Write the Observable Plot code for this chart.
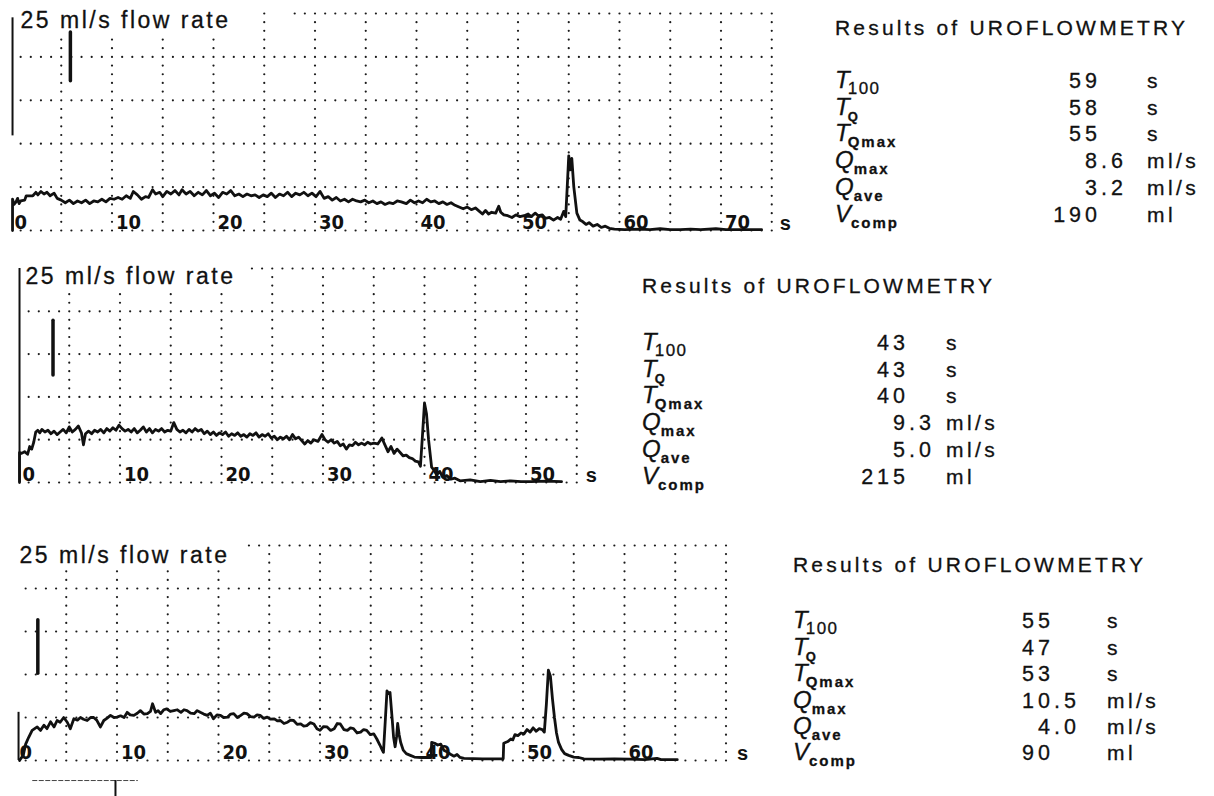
<!DOCTYPE html>
<html>
<head>
<meta charset="utf-8">
<script src="https://cdn.jsdelivr.net/npm/d3@7"></script>
<script src="https://cdn.jsdelivr.net/npm/@observablehq/plot@0.6"></script>
<style>
  body { margin: 0; background: #fff; }
  #fig { position: relative; width: 1214px; height: 796px; overflow: hidden; background: #fff; }
  .panel { position: absolute; left: 0; }
  #results { position: absolute; left: 0; top: 0; pointer-events: none; }
</style>
</head>
<body>
<div id="fig"></div>
<script>
// ---------- chart paper ----------
const flowGrid = [0, 5, 10, 15, 20, 25];              // ml/s rows, full height = 25 ml/s
const rangeTitle = "25 ml/s flow rate";
const timeLabels1 = [0, 10, 20, 30, 40, 50, 60, 70];
const timeLabels2 = [0, 10, 20, 30, 40, 50];
const timeLabels3 = [0, 10, 20, 30, 40, 50, 60];

// ---------- flow traces: [time s, flow ml/s] ----------
const flow1 = [
  [0.2,0],[0.2,3.6],[0.35,3.0],[0.55,3.3],[0.7,3.7],[0.85,3.1],[1.0,3.4],[1.4,3.5],[1.55,4.0],[2.2,4.0],
  [2.5,4.4],[2.7,4.1],[3.0,4.5],[3.3,4.2],[3.6,4.4],[3.9,4.0],[4.3,4.3],[4.6,3.7],[5.0,3.5],[5.4,3.2],
  [5.8,3.5],[6.2,3.1],[6.6,3.4],[7.0,3.2],[7.4,3.5],[7.8,3.1],[8.2,3.4],[8.6,3.3],[9.0,3.6],[9.4,3.3],
  [9.8,3.7],[10.2,3.6],[10.6,3.8],[11.0,3.6],[11.4,4.0],[11.8,3.7],[12.1,4.5],[12.5,4.1],[12.9,3.6],[13.3,3.9],
  [13.6,3.8],[14.0,4.7],[14.3,4.2],[14.7,4.4],[15.0,3.9],[15.4,4.5],[15.8,4.2],[16.2,4.6],[16.6,4.1],[16.9,4.7],
  [17.3,4.2],[17.7,4.5],[18.1,4.0],[18.5,4.4],[18.9,4.1],[19.3,4.6],[19.7,4.0],[20.1,4.3],[20.5,3.8],[20.9,4.4],
  [21.3,4.2],[21.7,4.6],[22.1,4.0],[22.5,4.2],[22.9,3.9],[23.3,4.2],[23.7,4.0],[24.1,4.1],[24.5,3.8],[24.9,4.1],
  [25.3,3.9],[25.7,4.3],[26.1,3.8],[26.5,4.2],[26.9,4.0],[27.3,4.4],[27.7,3.9],[28.1,4.3],[28.5,4.1],[28.9,4.4],
  [29.3,4.0],[29.7,4.3],[30.1,3.9],[30.5,4.5],[30.9,3.7],[31.3,3.9],[31.7,3.5],[32.1,3.8],[32.5,3.4],[32.9,3.6],
  [33.3,3.3],[33.7,3.6],[34.1,3.4],[34.5,3.3],[34.9,3.5],[35.3,3.2],[35.7,3.4],[36.1,3.1],[36.5,3.3],[36.9,3.0],
  [37.3,3.2],[37.7,3.1],[38.1,3.4],[38.5,3.3],[39.0,3.1],[39.4,3.5],[39.8,3.2],[40.2,3.4],[40.6,3.2],[41.0,3.6],
  [41.4,3.3],[41.8,3.4],[42.2,3.1],[42.6,3.3],[43.0,3.0],[43.4,3.2],[43.8,2.9],[44.2,2.7],[44.6,2.5],[45.0,2.7],
  [45.4,2.4],[45.8,2.6],[46.2,2.2],[46.5,1.9],[46.8,2.3],[47.1,1.9],[47.4,2.1],[47.8,2.0],[48.1,2.8],[48.3,2.1],
  [48.6,1.8],[49.0,1.7],[49.4,1.5],[49.8,1.8],[50.2,1.6],[50.6,1.7],[51.0,1.9],[51.3,1.6],[51.7,2.0],[52.0,1.7],
  [52.4,1.8],[52.7,1.4],[53.1,1.5],[53.5,1.2],[53.9,1.5],[54.2,1.3],[54.5,2.2],[54.7,1.6],[54.85,5.0],[55.0,8.6],
  [55.15,7.0],[55.3,8.3],[55.5,5.0],[55.8,2.0],[56.1,1.2],[56.4,1.0],[56.7,0.7],[57.0,0.9],[57.4,0.5],[57.8,0.7],
  [58.2,0.35],[58.6,0.5],[59.0,0.25],[59.5,0.15],[60.5,0.1],[62,0.15],[63,0.1],[64,0.2],[65,0.1],[66,0.1],
  [67,0.15],[68,0.1],[69.5,0.2],[70.5,0.1],[72,0.1],[74,0.1]
];
const flow2 = [
  [0.1,0],[0.1,3.5],[0.3,3.4],[0.6,3.6],[0.9,3.3],[1.1,4.2],[1.3,3.9],[1.5,4.7],[1.7,5.9],[1.9,6.1],
  [2.1,5.8],[2.3,6.2],[2.6,5.9],[2.9,6.1],[3.2,5.7],[3.5,6.0],[3.8,5.6],[4.1,5.9],[4.4,6.2],[4.7,5.8],
  [5.0,6.5],[5.3,5.9],[5.6,6.2],[5.9,6.6],[6.2,5.8],[6.4,4.4],[6.6,5.7],[6.9,6.0],[7.2,5.7],[7.5,6.1],
  [7.8,5.9],[8.1,6.2],[8.4,5.8],[8.7,6.3],[9.0,6.0],[9.3,6.4],[9.6,6.1],[9.9,6.7],[10.2,6.3],[10.5,6.0],
  [10.8,6.2],[11.1,5.9],[11.4,6.3],[11.7,5.8],[12.0,6.1],[12.3,6.5],[12.6,5.9],[12.9,6.3],[13.2,5.8],[13.5,6.2],
  [13.8,6.0],[14.1,6.3],[14.4,5.9],[14.7,6.1],[15.0,6.0],[15.3,7.0],[15.6,6.2],[15.9,5.9],[16.2,6.1],[16.5,5.8],
  [16.8,6.2],[17.1,5.9],[17.4,6.3],[17.7,6.0],[18.0,6.2],[18.3,5.7],[18.6,6.0],[18.9,5.6],[19.2,5.9],[19.5,5.5],
  [19.8,5.8],[20.1,5.6],[20.4,5.9],[20.7,5.4],[21.0,5.7],[21.3,5.5],[21.6,5.8],[21.9,5.4],[22.2,5.6],[22.5,5.3],
  [22.8,5.7],[23.1,5.5],[23.4,5.8],[23.7,5.3],[24.0,5.6],[24.3,5.4],[24.6,5.7],[24.9,5.2],[25.2,5.4],[25.5,5.0],
  [25.8,5.3],[26.1,5.1],[26.4,5.4],[26.7,5.0],[27.0,5.6],[27.3,5.1],[27.6,5.3],[27.9,4.9],[28.2,4.5],[28.5,4.9],
  [28.8,4.6],[29.1,5.0],[29.5,4.8],[29.9,5.6],[30.2,5.0],[30.5,4.7],[30.8,5.0],[31.1,4.6],[31.4,4.8],[31.7,4.3],
  [32.0,4.5],[32.3,3.9],[32.6,4.4],[32.9,4.3],[33.2,4.7],[33.5,4.4],[33.8,4.6],[34.1,4.4],[34.4,4.7],[34.7,4.5],
  [35.0,4.6],[35.4,4.5],[35.8,5.2],[36.1,4.4],[36.4,3.6],[36.7,4.2],[37.0,3.4],[37.3,3.9],[37.6,3.5],[37.9,3.1],
  [38.2,3.2],[38.5,2.9],[38.8,2.8],[39.1,2.5],[39.4,2.4],[39.6,1.9],[39.8,5.5],[40.0,9.3],[40.2,8.0],[40.4,5.0],
  [40.7,1.8],[40.9,1.5],[41.2,0.9],[41.5,1.3],[41.8,0.6],[42.2,0.8],[42.6,0.4],[43.0,0.5],[43.5,0.2],[44.5,0.3],
  [45.5,0.1],[46.5,0.25],[47.5,0.1],[48.5,0.2],[49.5,0.1],[50.5,0.1],[52,0.15],[53.5,0.1]
];
const flow3 = [
  [0.4,0],[0.5,0.2],[0.76,0.6],[1.0,1.9],[1.3,2.7],[1.64,3.5],[2.14,3.9],[2.46,3.5],[2.8,4.1],[3.1,3.7],
  [3.45,4.5],[3.8,3.9],[4.1,4.65],[4.4,4.45],[4.75,5.0],[5.1,4.45],[5.4,3.7],[5.75,4.85],[6.1,4.7],[6.4,5.0],
  [6.7,4.8],[7.06,4.65],[7.4,5.0],[7.7,5.0],[8.0,4.7],[8.37,3.9],[8.7,4.65],[9.0,4.9],[9.36,5.25],[9.7,5.0],
  [10.0,5.05],[10.35,5.2],[10.7,5.0],[11.0,5.6],[11.3,5.3],[11.66,5.25],[12.0,5.5],[12.3,5.8],[12.65,5.4],[13.0,5.45],
  [13.3,5.7],[13.5,6.6],[13.8,5.6],[14.05,5.8],[14.3,5.45],[14.6,5.9],[14.9,6.0],[15.25,5.7],[15.6,5.8],[15.95,5.9],
  [16.3,5.6],[16.6,5.9],[16.9,5.8],[17.25,5.5],[17.6,5.45],[17.9,5.8],[18.2,5.6],[18.55,5.4],[18.9,5.25],[19.2,5.5],
  [19.5,4.85],[19.85,5.3],[20.2,5.25],[20.5,5.0],[20.9,5.05],[21.2,5.4],[21.5,5.45],[21.85,5.0],[22.2,5.25],[22.5,5.5],
  [22.8,5.45],[23.15,5.1],[23.5,5.05],[23.8,5.3],[24.1,5.25],[24.45,4.9],[24.8,5.05],[25.1,4.8],[25.5,4.85],[25.8,4.6],
  [26.1,4.65],[26.45,4.3],[26.8,4.45],[27.1,4.7],[27.4,4.65],[27.75,4.2],[28.1,4.25],[28.4,4.0],[28.7,4.05],[29.05,4.4],
  [29.4,4.25],[29.7,3.7],[30.0,3.5],[30.35,3.95],[30.7,3.9],[31.05,3.5],[31.4,3.7],[31.7,4.3],[32.0,4.25],[32.35,3.6],
  [32.7,3.5],[33.0,3.8],[33.3,3.7],[33.65,3.2],[34.0,3.3],[34.3,3.6],[34.6,3.5],[34.95,3.0],[35.3,3.1],[35.6,2.5],
  [35.9,1.8],[36.1,1.3],[36.25,0.95],[36.45,5.0],[36.6,8.1],[36.75,7.8],[36.9,7.9],[37.1,5.0],[37.25,2.7],[37.4,1.6],
  [37.55,2.8],[37.65,4.3],[37.8,3.0],[37.95,2.1],[38.2,1.2],[38.5,0.8],[38.9,0.6],[39.3,0.4],[40.0,0.35],[40.95,0.35],
  [41.0,2.1],[41.3,2.0],[41.6,1.8],[41.9,1.9],[42.2,1.2],[42.5,1.0],[42.9,0.7],[43.2,0.5],[43.5,0.7],[43.8,0.35],
  [44.2,0.25],[46,0.2],[48.05,0.2],[48.1,2.0],[48.5,2.2],[48.8,2.5],[49.0,2.4],[49.2,3.0],[49.5,2.9],[49.8,3.2],
  [50.1,3.1],[50.4,3.6],[50.7,3.3],[51.0,3.8],[51.3,3.4],[51.6,3.7],[51.9,3.6],[52.1,3.3],[52.3,6.5],[52.5,10.5],
  [52.7,9.8],[52.9,7.2],[53.1,5.0],[53.3,3.2],[53.5,2.1],[53.8,1.3],[54.1,0.8],[54.5,0.6],[55.0,0.4],[55.5,0.35],
  [56.0,0.2],[57.5,0.15],[59,0.2],[60.5,0.15],[62,0.1],[63.2,0.25],[63.6,0.1],[65.2,0.1]
];

// recorder pen marks: left edge strokes and calibration bars (time s, flow range ml/s)
const edge1 = [{t: 0.2, q1: 10.9, q2: 24.5}];
const edge2 = [{t: 0.1, q1: 0, q2: 25}];
const edge3 = [{t: 0.3, q1: 0, q2: 5.6}];
const calib1 = [{t: 5.9, q1: 17.2, q2: 22.8}];
const calib2 = [{t: 3.4, q1: 12.5, q2: 18.9}];
const calib3 = [{t: 2.2, q1: 10.1, q2: 16.3}];
// start of the next strip below the third record
const stripEdgeLine = [{q: -2.33, t1: 1.7, t2: 12.1}];
const stripEdgeTick = [{t: 9.85, q1: -2.33, q2: -4.4}];

// ---------- results tables ----------
const resultSymbols = ["T", "T", "T", "Q", "Q", "V"];
const resultSubscripts = ["100", "Q", "Qmax", "max", "ave", "comp"];
const resultUnits = ["s", "s", "s", "ml/s", "ml/s", "ml"];
const results1 = ["59", "58", "55", "8.6", "3.2", "190"];
const results2 = ["43", "43", "40", "9.3", "5.0", "215"];
const results3 = ["55", "47", "53", "10.5", "4.0", "90"];
const resultsTitle = "Results of UROFLOWMETRY";

// ---------- layout ----------
const PX_PER_S = 10.15;   // paper speed
const SANS = "'Liberation Sans', Arial, Helvetica, sans-serif";
const NARROW = "'Liberation Sans Narrow', 'DejaVu Sans Condensed', 'Liberation Sans', sans-serif";
const INK = "#111";

const panels = [
  {top: 0,   width: 800, height: 250, x0: 10, yTop: 13, yBottom: 230, xmax: 75, rowStart: 28,
   titleDx: 10, titleDy: 14, unitDx: 8, flow: flow1, labels: timeLabels1, edge: edge1, calib: calib1},
  {top: 250, width: 610, height: 250, x0: 18, yTop: 18, yBottom: 232, xmax: 55, rowStart: 23,
   titleDx: 7, titleDy: 15, unitDx: 9, flow: flow2, labels: timeLabels2, edge: edge2, calib: calib2},
  {top: 520, width: 760, height: 276, x0: 15, yTop: 25, yBottom: 240, xmax: 70, rowStart: 23,
   titleDx: 4, titleDy: 17, unitDx: 11, flow: flow3, labels: timeLabels3, edge: edge3, calib: calib3,
   extra: true}
];

const resultBlocks = [
  {x: 835, titleY: 35,  rowY: 88,    step: 26.7, numX: 1097, unitX: 1147, values: results1},
  {x: 642, titleY: 293, rowY: 350,   step: 26.7, numX: 905,  unitX: 946,  values: results2},
  {x: 793, titleY: 572, rowY: 628.3, step: 26.4, numX: 1050, unitX: 1107, values: results3}
];

// dotted chart-paper grid: a dot every second along flow rows, every ml/s along 5 s columns
function gridDots(p) {
  const dots = [];
  const onRow = (t, q) => flowGrid.includes(q) && t >= 1 && (q !== 25 || t >= p.rowStart);
  for (const q of flowGrid)
    for (let t = 1; t <= p.xmax; t++) if (onRow(t, q)) dots.push({t, q});
  for (let t = 5; t <= p.xmax; t += 5)
    for (let q = 0; q <= 25; q++) {
      if (t < 23 && q > 22) continue;          // kept clear for the range title
      if (onRow(t, q)) continue;
      dots.push({t, q});
    }
  return dots;
}

const fig = document.getElementById("fig");

for (const p of panels) {
  const xEnd = p.x0 + p.xmax * PX_PER_S;
  const marks = [
    Plot.dot(gridDots(p), {x: "t", y: "q", r: 1.1, fill: "#1a1a1a"}),
    Plot.text(p.labels, {x: d => d, y: 0, text: d => String(d), textAnchor: "start", lineAnchor: "bottom",
      dx: 4, dy: -2, fontFamily: NARROW, fontWeight: "bold", fontSize: 20, fill: INK}),
    Plot.text([{t: p.xmax, q: 0, s: "s"}], {x: "t", y: "q", text: "s", textAnchor: "start", lineAnchor: "bottom",
      dx: p.unitDx, dy: -1, fontFamily: SANS, fontWeight: "bold", fontSize: 20, fill: INK}),
    Plot.text([rangeTitle], {x: 0, y: 25, text: d => d, textAnchor: "start", lineAnchor: "bottom",
      dx: p.titleDx, dy: p.titleDy, fontFamily: SANS, fontSize: 23, fill: INK, stroke: INK, strokeWidth: 0.3}),
    Plot.ruleX(p.edge, {x: "t", y1: "q1", y2: "q2", stroke: INK, strokeWidth: 2}),
    Plot.ruleX(p.calib, {x: "t", y1: "q1", y2: "q2", stroke: INK, strokeWidth: 3.5, strokeLinecap: "round"}),
    Plot.line(p.flow, {x: d => d[0], y: d => d[1], stroke: INK, strokeWidth: 2.8,
      strokeLinejoin: "round", strokeLinecap: "round"})
  ];
  if (p.extra) {
    marks.push(
      Plot.ruleY(stripEdgeLine, {y: "q", x1: "t1", x2: "t2", stroke: "#444", strokeWidth: 1, strokeDasharray: "5,1.5"}),
      Plot.ruleX(stripEdgeTick, {x: "t", y1: "q1", y2: "q2", stroke: INK, strokeWidth: 2})
    );
  }
  const svg = Plot.plot({
    width: p.width, height: p.height,
    marginLeft: p.x0, marginRight: p.width - xEnd,
    marginTop: p.yTop, marginBottom: p.height - p.yBottom,
    x: {domain: [0, p.xmax], axis: null},
    y: {domain: [0, 25], axis: null},
    style: {background: "transparent", overflow: "visible"},
    marks
  });
  svg.querySelectorAll("text").forEach(el => {
    if (el.textContent === rangeTitle) el.style.letterSpacing = "2.5px";
  });
  const holder = document.createElement("div");
  holder.className = "panel";
  holder.style.top = p.top + "px";
  holder.appendChild(svg);
  fig.appendChild(holder);
}

// results tables beside each record
const res = d3.create("svg").attr("id", "results").attr("width", 1214).attr("height", 796)
  .attr("font-family", SANS).attr("fill", INK).attr("stroke", INK).attr("stroke-width", 0.3);
fig.appendChild(res.node());
const NUM_SPACING = 4;
for (const b of resultBlocks) {
  res.append("text").attr("x", b.x).attr("y", b.titleY).attr("font-size", 21)
    .style("letter-spacing", "3.2px").text(resultsTitle);
  b.values.forEach((v, i) => {
    const y = b.rowY + i * b.step;
    const lab = res.append("text").attr("x", b.x).attr("y", y);
    const sym = resultSymbols[i];
    lab.append("tspan").attr("font-style", "italic").attr("font-size", 24).text(sym);
    const sub = resultSubscripts[i];
    const numeric = /^\d+$/.test(sub);
    lab.append("tspan").attr("dx", sym === "T" ? -2 : 0).attr("dy", 6)
      .attr("font-size", numeric ? 17 : (sub === "Q" ? 13 : 15))
      .attr("font-weight", numeric ? "normal" : "bold")
      .style("letter-spacing", numeric ? "1.5px" : "2px").text(sub);
    // value aligned on the decimal point: integer part ends at numX
    const num = res.append("text").attr("y", y).attr("font-size", 21.5)
      .style("letter-spacing", NUM_SPACING + "px").text(v);
    const intLen = v.split(".")[0].length;
    const intAdvance = num.node().getSubStringLength(0, intLen);
    num.attr("x", b.numX - intAdvance + NUM_SPACING);
    res.append("text").attr("x", b.unitX).attr("y", y).attr("font-size", 21)
      .style("letter-spacing", "3.4px").text(resultUnits[i]);
  });
}
</script>
</body>
</html>
